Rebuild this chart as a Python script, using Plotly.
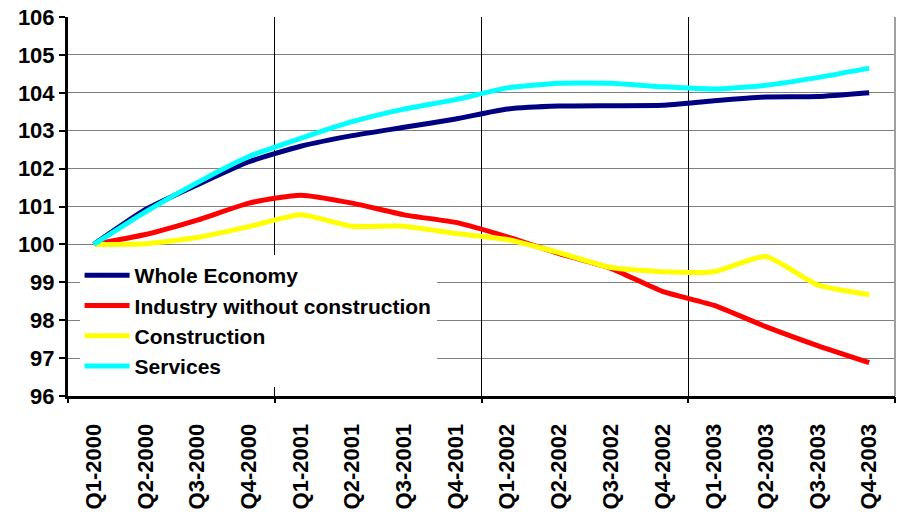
import plotly.graph_objects as go

quarters = ["Q1-2000", "Q2-2000", "Q3-2000", "Q4-2000",
            "Q1-2001", "Q2-2001", "Q3-2001", "Q4-2001",
            "Q1-2002", "Q2-2002", "Q3-2002", "Q4-2002",
            "Q1-2003", "Q2-2003", "Q3-2003", "Q4-2003"]

whole_economy = [100.0, 100.92, 101.57, 102.18, 102.59, 102.87, 103.09, 103.31,
                 103.57, 103.65, 103.66, 103.67, 103.79, 103.89, 103.9, 104.0]
industry = [100.0, 100.26, 100.64, 101.09, 101.3, 101.09, 100.78, 100.58,
            100.2, 99.76, 99.37, 98.76, 98.39, 97.83, 97.33, 96.88]
construction = [100.0, 100.02, 100.18, 100.47, 100.78, 100.48, 100.48, 100.29,
                100.13, 99.78, 99.39, 99.28, 99.28, 99.68, 98.93, 98.67]
services = [100.0, 100.86, 101.63, 102.32, 102.8, 103.24, 103.57, 103.82,
            104.13, 104.25, 104.25, 104.16, 104.1, 104.2, 104.4, 104.65]

series = [
    ("Whole Economy", whole_economy, "#000080"),
    ("Industry without construction", industry, "#FF0000"),
    ("Construction", construction, "#FFFF00"),
    ("Services", services, "#00FFFF"),
]

y_ticks = list(range(96, 107))
x_pos = list(range(len(quarters)))
year_bounds = [-0.5, 3.5, 7.5, 11.5, 15.5]

fig = go.Figure()
for name, vals, color in series:
    fig.add_trace(go.Scatter(
        x=x_pos, y=vals, name=name, mode="lines",
        line=dict(color=color, width=5, shape="spline", smoothing=0.5),
    ))

# helper trace to activate overlay axis for year gridlines/ticks
fig.add_trace(go.Scatter(x=[], y=[], xaxis="x2", showlegend=False, hoverinfo="skip"))

font_family = "Liberation Sans, Arial, sans-serif"

fig.update_layout(
    width=897, height=515,
    margin=dict(l=68, r=2, t=17, b=119),
    paper_bgcolor="white", plot_bgcolor="white",
    font=dict(family=font_family, size=22, color="black", weight="bold"),
    showlegend=True,
    legend=dict(
        x=0.014, y=0.372, xanchor="left", yanchor="top",
        bgcolor="white", borderwidth=0,
        font=dict(family=font_family, size=21, color="black", weight="bold"),
        tracegroupgap=0, itemwidth=45,
    ),
    xaxis=dict(
        range=[-0.5, 15.5], automargin=False,
        tickmode="array", tickvals=x_pos, ticktext=quarters,
        tickangle=-90, ticks="", showgrid=False, zeroline=False,
        showline=True, linecolor="black", linewidth=3,
        tickfont=dict(family=font_family, size=22, weight="bold"),
        ticklabelstandoff=16,
    ),
    xaxis2=dict(
        overlaying="x", range=[-0.5, 15.5], side="bottom", automargin=False,
        tickmode="array", tickvals=year_bounds, showticklabels=False,
        ticks="outside", ticklen=6, tickwidth=2, tickcolor="black",
        showgrid=True, gridcolor="black", gridwidth=1,
        zeroline=False, showline=False,
    ),
    yaxis=dict(
        range=[96, 106], tickmode="array", tickvals=y_ticks, automargin=False,
        ticks="outside", ticklen=6, tickwidth=2, tickcolor="black",
        showgrid=True, gridcolor="#808080", gridwidth=1,
        showline=True, linecolor="black", linewidth=3, zeroline=False,
        tickfont=dict(family=font_family, size=22, weight="bold"),
        ticksuffix=" ",
    ),
    shapes=[dict(type="line", xref="paper", yref="paper", x0=1, x1=1, y0=0, y1=1,
                 line=dict(color="#A0A0A0", width=2), layer="above")],
)

fig.write_html(
    "out.html",
    config={"displayModeBar": False},
    post_script="document.body.style.margin='0';document.body.style.overflow='hidden';",
)
